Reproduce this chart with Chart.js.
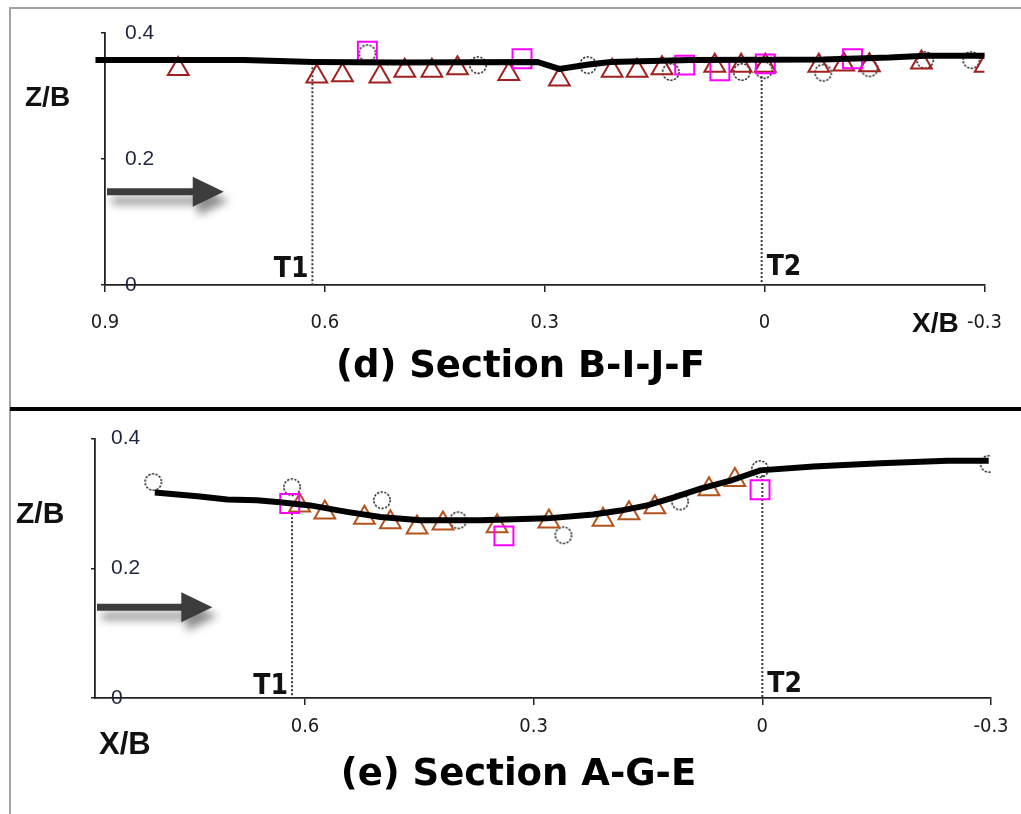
<!DOCTYPE html>
<html><head><meta charset="utf-8">
<script src="https://cdn.jsdelivr.net/npm/chart.js@4/dist/chart.umd.min.js"></script>
<style>
html,body{margin:0;padding:0;background:#fff;}
#wrap{position:relative;width:1021px;height:814px;overflow:hidden;background:#fff;}
#frame{position:absolute;left:9px;top:7px;width:1020px;height:820px;border-left:2px solid #a3a3a3;border-top:2px solid #a3a3a3;}
#sep{position:absolute;left:10px;top:407px;width:1011px;height:4px;background:#000;}
canvas{position:absolute;left:0;}
#c1{top:0;}
#c2{top:410px;}
</style></head>
<body><div id="wrap"><div id="frame"></div>
<canvas id="c1" width="1021" height="407"></canvas>
<canvas id="c2" width="1021" height="404"></canvas>
<div id="sep"></div></div>
<script>
// ---- shared axis ticks ----
const xTickValues = [0.9, 0.6, 0.3, 0, -0.3];
const yTickValues = [0, 0.2, 0.4];
const tLabels = ['T1', 'T2'];

// ---- (d) Section B-I-J-F ----
const dLineX = [0.913, 0.71, 0.616, 0.50, 0.31, 0.28, 0.24, 0.21, 0.10, -0.08, -0.17, -0.22, -0.30];
const dLineY = [0.357, 0.357, 0.354, 0.353, 0.354, 0.343, 0.350, 0.354, 0.357, 0.358, 0.361, 0.364, 0.364];
const dTriX = [0.800, 0.611, 0.576, 0.525, 0.491, 0.454, 0.419, 0.349, 0.280, 0.208, 0.174, 0.140, 0.068, 0.032, -0.001, -0.074, -0.108, -0.143, -0.214, -0.301];
const dTriY = [0.343, 0.331, 0.333, 0.331, 0.340, 0.340, 0.344, 0.335, 0.326, 0.340, 0.340, 0.344, 0.348, 0.348, 0.348, 0.348, 0.350, 0.349, 0.353, 0.348];
const dCircX = [0.542, 0.391, 0.241, 0.128, 0.031, 0.001, -0.080, -0.143, -0.219, -0.282];
const dCircY = [0.368, 0.349, 0.349, 0.338, 0.338, 0.341, 0.337, 0.344, 0.357, 0.357];
const dSqX = [0.542, 0.331, 0.109, 0.061, -0.001, -0.120];
const dSqY = [0.371, 0.359, 0.349, 0.340, 0.351, 0.359];
const dTX = [0.617, 0.004];
const dTTop = [0.352, 0.338];

// ---- (e) Section A-G-E ----
const eLineX = [0.797, 0.741, 0.702, 0.663, 0.633, 0.593, 0.545, 0.501, 0.449, 0.370, 0.282, 0.222, 0.186, 0.151, 0.117, 0.081, 0.042, 0.003, -0.067, -0.155, -0.243, -0.297];
const eLineY = [0.317, 0.311, 0.306, 0.305, 0.302, 0.297, 0.287, 0.279, 0.274, 0.274, 0.277, 0.283, 0.289, 0.297, 0.309, 0.323, 0.335, 0.351, 0.357, 0.362, 0.366, 0.366];
const eTriX = [0.607, 0.574, 0.522, 0.488, 0.453, 0.419, 0.348, 0.280, 0.209, 0.175, 0.141, 0.070, 0.036];
const eTriY = [0.297, 0.286, 0.278, 0.271, 0.263, 0.269, 0.265, 0.272, 0.275, 0.285, 0.294, 0.322, 0.336];
const eCircX = [0.799, 0.617, 0.499, 0.399, 0.261, 0.108, 0.003, -0.297];
const eCircY = [0.333, 0.325, 0.305, 0.274, 0.251, 0.303, 0.353, 0.361];
const eSqX = [0.620, 0.339, 0.003];
const eSqY = [0.300, 0.250, 0.321];
const eTX = [0.617, 0.0];
const eTTop = [0.285, 0.350];

const pts = (xs, ys) => xs.map((x, i) => ({x, y: ys[i]}));

// dashed circle marker
function makeCircle() {
  const c = document.createElement('canvas');
  c.width = 20; c.height = 20;
  const g = c.getContext('2d');
  g.setLineDash([2.2, 1.5]);
  g.strokeStyle = '#1f1f1f';
  g.lineWidth = 1.5;
  g.beginPath(); g.arc(10, 10, 8.2, 0, Math.PI * 2); g.stroke();
  return c;
}
const circleImg = makeCircle();

const NARROW = "'Liberation Sans Narrow','DejaVu Sans Condensed','Liberation Sans',Arial,sans-serif";
const SANS = "'Liberation Sans',Arial,sans-serif";
const TITLEF = "'DejaVu Sans','Liberation Sans',Arial,sans-serif";

const annotPlugin = {
  id: 'annot',
  afterDatasetsDraw(chart, args, o) {
    const ctx = chart.ctx, xs = chart.scales.x, ys = chart.scales.y;
    ctx.save();
    // flow arrow
    const ay = ys.getPixelForValue(o.arrowY);
    const x0 = chart.chartArea.left + 2, x1 = xs.getPixelForValue(o.arrowTip);
    ctx.shadowColor = 'rgba(0,0,0,0.45)'; ctx.shadowBlur = 9; ctx.shadowOffsetX = 5; ctx.shadowOffsetY = 9;
    ctx.fillStyle = '#3c3c3c';
    ctx.beginPath();
    ctx.rect(x0, ay - 3.5, x1 - 30 - x0, 7);
    ctx.fill();
    ctx.beginPath();
    ctx.moveTo(x1 - 31, ay - 15); ctx.lineTo(x1, ay); ctx.lineTo(x1 - 31, ay + 15); ctx.closePath();
    ctx.fill();
    ctx.restore();
    ctx.save();
    ctx.fillStyle = '#111';
    ctx.textBaseline = 'alphabetic';
    ctx.textAlign = 'left';
    ctx.font = 'bold ' + o.zbSize + 'px ' + SANS;
    ctx.fillText('Z/B', o.zb[0], o.zb[1]);
    ctx.font = 'bold ' + o.xbSize + 'px ' + SANS;
    ctx.fillText('X/B', o.xb[0], o.xb[1]);
    ctx.font = 'bold 28px ' + NARROW;
    const y0 = ys.getPixelForValue(0);
    ctx.textAlign = 'right';
    ctx.fillText(tLabels[0], xs.getPixelForValue(o.tx[0]) - 4, y0 - o.tBase[0]);
    ctx.textAlign = 'left';
    ctx.fillText(tLabels[1], xs.getPixelForValue(o.tx[1]) + 5, y0 - o.tBase[1]);
    ctx.restore();
  }
};

function build(id, p) {
  const tri = pts(p.triX, p.triY), circ = pts(p.circX, p.circY), sq = pts(p.sqX, p.sqY), line = pts(p.lineX, p.lineY);
  const vline = (i) => ({
    type: 'line', data: [{x: p.tX[i], y: p.tTop[i]}, {x: p.tX[i], y: 0}],
    borderColor: '#3a3a3a', borderWidth: 2, borderDash: [2, 2], pointRadius: 0, order: 5
  });
  new Chart(document.getElementById(id), {
    type: 'scatter',
    data: {datasets: [
      {type: 'line', data: line, borderColor: '#000', borderWidth: 6, pointRadius: 0, tension: 0, order: 0, clip: false, borderCapStyle: 'butt'},
      {data: sq, pointStyle: 'rect', pointRadius: 13.4, borderColor: '#ff00ff', borderWidth: 2, backgroundColor: 'rgba(0,0,0,0)', order: 1},
      {data: tri, pointStyle: 'triangle', pointRadius: 12, borderColor: p.triColor, borderWidth: 2, backgroundColor: 'rgba(0,0,0,0)', order: 2},
      {data: circ, pointStyle: circleImg, pointRadius: 8, order: 3},
      vline(0), vline(1)
    ]},
    options: {
      responsive: false, animation: false, events: [],
      layout: {padding: {left: 46, right: p.padRight, top: p.padTop, bottom: p.padBottom}},
      plugins: {
        legend: {display: false}, tooltip: {enabled: false},
        title: {display: true, position: 'bottom', text: p.title, color: '#000',
          font: {family: TITLEF, size: 37, weight: 'bold', lineHeight: 1.2}, padding: {top: p.titleTop, bottom: 0}},
        annot: p.annot
      },
      scales: {
        x: {
          type: 'linear', reverse: true, min: -0.3, max: p.xMax,
          afterBuildTicks: s => { s.ticks = xTickValues.filter(v => v <= p.xMax).map(v => ({value: v})); },
          afterFit: s => { s.height = p.xAxisH; },
          grid: {drawOnChartArea: false, tickLength: 7, color: '#222', lineWidth: 1.5},
          border: {color: '#222', width: 1.8},
          ticks: {padding: p.xTickPad, color: '#1b1b1b', font: {family: NARROW, size: 20}, maxRotation: 0, autoSkip: false,
            callback: v => String(v)}
        },
        y: {
          min: 0, max: 0.4,
          afterBuildTicks: s => { s.ticks = yTickValues.map(v => ({value: v})); },
          afterFit: s => { s.width = p.left - 46; },
          grid: {drawOnChartArea: false, tickLength: 4, color: '#222', lineWidth: 1.5},
          border: {color: '#222', width: 1.8},
          ticks: {mirror: true, padding: p.yTickPad, color: '#1e2340', font: {family: SANS, size: 21},
            callback: v => String(v)}
        }
      }
    },
    plugins: [annotPlugin]
  });
}

build('c1', {
  lineX: dLineX, lineY: dLineY, triX: dTriX, triY: dTriY, circX: dCircX, circY: dCircY, sqX: dSqX, sqY: dSqY,
  tX: dTX, tTop: dTTop, triColor: '#a0201f', xMax: 0.9, title: '(d) Section B-I-J-F',
  left: 105, padRight: 26, padTop: 33, padBottom: 17.6, xAxisH: 60, titleTop: 0, xTickPad: 19, yTickPad: 20,
  annot: {arrowY: 0.148, arrowTip: 0.738, zb: [25, 106], zbSize: 28, xb: [912, 332], xbSize: 28, tx: dTX, tBase: [8, 10]}
});
build('c2', {
  lineX: eLineX, lineY: eLineY, triX: eTriX, triY: eTriY, circX: eCircX, circY: eCircY, sqX: eSqX, sqY: eSqY,
  tX: eTX, tTop: eTTop, triColor: '#b4521c', xMax: 0.8755, title: '(e) Section A-G-E',
  left: 95, padRight: 30, padTop: 28, padBottom: 16.6, xAxisH: 55, titleTop: 0, xTickPad: 10, yTickPad: 16,
  annot: {arrowY: 0.14, arrowTip: 0.7216, zb: [16, 113], zbSize: 30, xb: [99, 344], xbSize: 31, tx: eTX, tBase: [4, 6]}
});
</script></body></html>
